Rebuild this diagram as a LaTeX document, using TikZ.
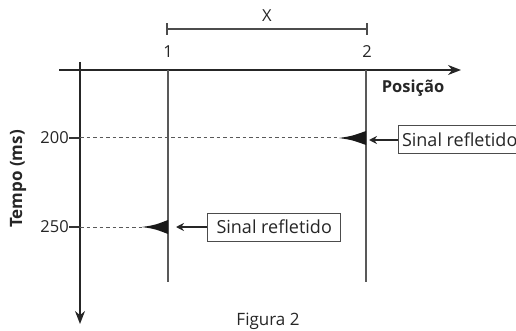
\documentclass[tikz,border=0pt]{standalone}
\usepackage{fontspec}
\setmainfont{Open Sans}
\usetikzlibrary{arrows.meta}
\begin{document}
\begin{tikzpicture}[x=1pt,y=-1pt,
  txt/.style={inner sep=0pt,font=\fontsize{16.5}{19}\selectfont,text=black!85},
  axis/.style={line width=1.4pt,draw=black!85,-{Stealth[length=13pt,width=10pt]}},
  vline/.style={line width=1.3pt,draw=black!65},
  dashline/.style={line width=1pt,draw=black!65,dash pattern=on 3.5pt off 3pt},
  boxlab/.style={draw=black!70,line width=1pt,fill=white,minimum height=28pt,
    font=\fontsize{18}{21}\selectfont,text=black!85,anchor=west},
  ptr/.style={line width=1.3pt,draw=black!85,-{Stealth[length=8pt,width=8pt]}},
  wedge/.style={fill=black!90,draw=none}]
\useasboundingbox (0,0) rectangle (516,331);
\clip (0,0) rectangle (516,331);
% axes
\coordinate (hs) at (59,70);
\coordinate (he) at (461,70);
\coordinate (vs) at (80,62);
\coordinate (ve) at (80,324);
\draw[axis] (hs) -- (he);
\draw[axis] (vs) -- (ve);
% position lines
\coordinate (p1t) at (168,70);
\coordinate (p1b) at (168,282);
\coordinate (p2t) at (366,70);
\coordinate (p2b) at (366,282);
\draw[vline] (p1t) -- (p1b);
\draw[vline] (p2t) -- (p2b);
% labels
\node[txt] (n1) at (168,52) {1};
\node[txt] (n2) at (367,52) {2};
\node[txt] (nx) at (267,16) {X};
\coordinate (xa) at (167,29);
\coordinate (xb) at (367,29);
\draw[line width=1.3pt,draw=black!70] (xa) -- (xb);
\draw[line width=1.2pt,draw=black!70] ([yshift=-6pt]xa) -- ([yshift=6pt]xa);
\draw[line width=1.2pt,draw=black!70] ([yshift=-6pt]xb) -- ([yshift=6pt]xb);
\node[txt,font=\fontsize{16.5}{19}\selectfont\bfseries] (pos) at (413,88) {Posição};
\node[txt,font=\fontsize{17}{19}\selectfont\bfseries,rotate=90] (tempo) at (18,179) {Tempo (ms)};
% time ticks
\node[txt,anchor=east] (t200) at (69,138) {200};
\node[txt,anchor=east] (t250) at (69,227) {250};
\coordinate (k200) at (80,138);
\coordinate (k250) at (80,227);
\draw[line width=1.2pt,draw=black!80] (t200.east) -- (k200);
\draw[line width=1.2pt,draw=black!80] (t250.east) -- (k250);
\coordinate (w200) at (339,138);
\coordinate (w250) at (142,227);
\draw[dashline] (k200) -- (w200);
\draw[dashline] (k250) -- (w250);
% wedges
\fill[wedge] (w200) .. controls (352,136) .. (366,131) -- (366,145) .. controls (352,140) .. (w200) -- cycle;
\fill[wedge] (w250) .. controls (155,225) .. (168,220) -- (168,234) .. controls (155,229) .. (w250) -- cycle;
% boxes
\node[boxlab,inner xsep=3.5pt] (b1) at (398,140) {Sinal refletido};
\node[boxlab,inner xsep=9pt] (b2) at (207,227) {Sinal refletido};
\coordinate (a1) at (369,140);
\coordinate (a2) at (176,227);
\draw[ptr] (b1.west) -- (a1);
\draw[ptr] (b2.west) -- (a2);
% caption
\node[txt,font=\fontsize{17}{20}\selectfont] (fig) at (268,321) {Figura 2};
\end{tikzpicture}
\end{document}
